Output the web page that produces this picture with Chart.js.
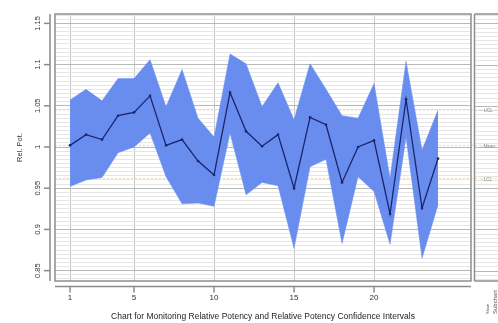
<!DOCTYPE html>
<html><head><meta charset="utf-8">
<script src="https://cdn.jsdelivr.net/npm/chart.js@4/dist/chart.umd.min.js"></script>
<style>html,body{margin:0;padding:0;background:#fff;overflow:hidden}
#wrap{position:relative;width:498px;height:323px}
</style></head><body><div id="wrap"><canvas id="c" width="498" height="323"></canvas></div>
<script>
// ---- data ----
const lots = [1,2,3,4,5,6,7,8,9,10,11,12,13,14,15,16,17,18,19,20,21,22,23,24];
const relPot = [1.002,1.015,1.009,1.038,1.042,1.062,1.002,1.009,0.983,0.966,1.066,1.019,1.001,1.015,0.950,1.036,1.027,0.957,1.000,1.008,0.919,1.058,0.926,0.986];
const upperCI = [1.057,1.070,1.056,1.083,1.083,1.106,1.049,1.094,1.035,1.012,1.113,1.101,1.049,1.078,1.033,1.101,1.070,1.038,1.035,1.077,0.962,1.104,0.996,1.045];
const lowerCI = [0.952,0.960,0.963,0.993,1.000,1.017,0.964,0.931,0.932,0.928,1.017,0.942,0.957,0.953,0.877,0.976,0.985,0.883,0.964,0.946,0.882,1.012,0.865,0.930];
const xTicks = [1,5,10,15,20];
const yTickLabels = ['0.85','0.9','0.95','1','1.05','1.1','1.15'];
const controlNames = ['UCL','Mean','LCL'];
const controlValues = [1.045,1.002,0.962];
const xTitle = 'Chart for Monitoring Relative Potency and Relative Potency Confidence Intervals';
const yTitle = 'Rel. Pot.';

const FONT = '"Liberation Sans", Arial, sans-serif';
const pts = arr => lots.map((l,i)=>({x:l,y:arr[i]}));
const yMajor = yTickLabels.map(Number);

const decor = {
  id:'decor',
  beforeDatasetsDraw(chart){
    const {ctx, chartArea:a, scales:{y}} = chart;
    ctx.save();
    ctx.beginPath(); ctx.rect(474, a.top, 498-474, a.bottom-a.top); ctx.clip();
    y.ticks.forEach(t=>{
      const py = Math.round(y.getPixelForValue(t.value))+0.5;
      const major = Math.round(t.value*1000)%50===0;
      ctx.strokeStyle = major ? '#b8b8b8' : '#e6e6e6';
      ctx.lineWidth=1;
      ctx.beginPath(); ctx.moveTo(474,py); ctx.lineTo(498,py); ctx.stroke();
    });
    ctx.restore();
    ctx.save();
    ctx.setLineDash([2,2]);
    controlValues.forEach((v,i)=>{
      const py = y.getPixelForValue(v);
      ctx.strokeStyle = i===1 ? 'rgba(150,150,150,0.4)' : 'rgba(225,180,130,0.55)';
      ctx.lineWidth=1;
      ctx.beginPath(); ctx.moveTo(a.left,py); ctx.lineTo(498,py); ctx.stroke();
    });
    ctx.restore();
  },
  afterDraw(chart){
    const {ctx, chartArea:a, scales:{x,y}} = chart;
    ctx.save();
    ctx.strokeStyle='#8e8e8e'; ctx.lineWidth=1.5;
    ctx.strokeRect(a.left, a.top, a.right-a.left, a.bottom-a.top);
    ctx.beginPath(); ctx.moveTo(474.5,a.top); ctx.lineTo(474.5,a.bottom); ctx.stroke();
    ctx.beginPath(); ctx.moveTo(474.5,a.top); ctx.lineTo(498,a.top); ctx.moveTo(474.5,a.bottom); ctx.lineTo(498,a.bottom); ctx.stroke();
    ctx.strokeStyle='#8a8a8a'; ctx.lineWidth=1.5;
    const ay = a.bottom+5.5;
    ctx.beginPath(); ctx.moveTo(a.left,ay); ctx.lineTo(a.right,ay); ctx.stroke();
    xTicks.forEach(v=>{
      const px = x.getPixelForValue(v);
      ctx.beginPath(); ctx.moveTo(px,ay); ctx.lineTo(px,ay+6); ctx.stroke();
    });
    const ax = a.left-5;
    ctx.beginPath(); ctx.moveTo(ax,a.top); ctx.lineTo(ax,a.bottom); ctx.stroke();
    ctx.fillStyle='#333'; ctx.font='7.5px '+FONT; ctx.textAlign='center'; ctx.textBaseline='middle';
    yMajor.forEach((v,i)=>{
      const py = y.getPixelForValue(v);
      ctx.beginPath(); ctx.moveTo(ax-6,py); ctx.lineTo(ax,py); ctx.stroke();
      ctx.save(); ctx.translate(ax-12,py); ctx.rotate(-Math.PI/2);
      ctx.fillText(yTickLabels[i],0,0); ctx.restore();
    });
    ctx.fillStyle='#888'; ctx.font='4.5px '+FONT; ctx.textAlign='left';
    controlValues.forEach((v,i)=>{
      const py = y.getPixelForValue(v);
      ctx.fillText('- '+controlNames[i], 481, py+1);
    });
    ctx.fillStyle='#555';
    ctx.save(); ctx.translate(495,302); ctx.rotate(-Math.PI/2);
    ctx.font='6px '+FONT; ctx.textAlign='center'; ctx.fillText('Subchart',0,0); ctx.restore();
    ctx.save(); ctx.translate(488,309); ctx.rotate(-Math.PI/2);
    ctx.font='4px '+FONT; ctx.textAlign='center'; ctx.fillText('Show',0,0); ctx.restore();
    ctx.restore();
  }
};

new Chart(document.getElementById('c'), {
  type:'line',
  data:{
    datasets:[
      {label:'Rel. Pot.', data:pts(relPot), borderColor:'#1b246e', backgroundColor:'#1b246e',
       borderWidth:1.3, pointRadius:1.3, pointBorderWidth:0, fill:false, tension:0},
      {label:'Upper', data:pts(upperCI), borderColor:'rgba(104,141,238,1)', borderWidth:0.5,
       backgroundColor:'rgba(104,141,238,1)', pointRadius:0, fill:'+1', tension:0},
      {label:'Lower', data:pts(lowerCI), borderColor:'rgba(104,141,238,1)', borderWidth:0.5,
       pointRadius:0, fill:false, tension:0}
    ]
  },
  options:{
    responsive:false, animation:false, devicePixelRatio:1,
    layout:{padding:{top:14,right:27,left:0,bottom:0}},
    plugins:{legend:{display:false}, tooltip:{enabled:false}},
    scales:{
      x:{type:'linear', min:0.06, max:26.06,
        afterBuildTicks:s=>{ s.ticks = xTicks.map(v=>({value:v})); },
        afterFit:s=>{ s.height = 42; },
        grid:{color:'#c4c4c4', lineWidth:1, drawTicks:false},
        border:{display:false},
        ticks:{padding:12, color:'#333', font:{family:FONT, size:8}, autoSkip:false, maxRotation:0},
        title:{display:true, text:xTitle, color:'#1e1e1e', font:{family:FONT, size:8.5}, padding:{top:0,bottom:1}}
      },
      y:{type:'linear', min:0.8374, max:1.1614,
        afterBuildTicks:s=>{ const t=[]; for(let k=168;k<=232;k++){ t.push({value:k*0.005}); } s.ticks=t; },
        afterFit:s=>{ s.width = 55; },
        grid:{drawTicks:false, lineWidth:1,
          color:c=> (Math.round(c.tick.value*1000)%50===0) ? '#b8b8b8' : '#e6e6e6'},
        border:{display:false},
        ticks:{display:false},
        title:{display:true, text:yTitle, color:'#333', font:{family:FONT, size:7.5}, padding:{top:15,bottom:0}}
      }
    }
  },
  plugins:[decor]
});
</script></body></html>
